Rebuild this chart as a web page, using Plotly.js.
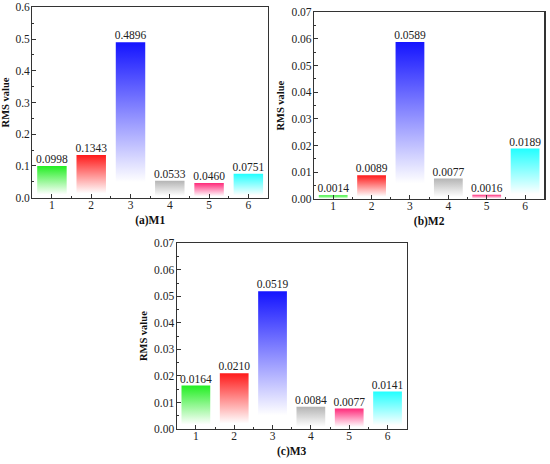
<!DOCTYPE html>
<html><head><meta charset="utf-8">
<script src="https://cdn.plot.ly/plotly-3.0.1.min.js"></script>
<style>html,body{margin:0;padding:0;background:#fff}#chart{width:550px;height:464px}</style>
</head><body><div id="chart"></div>
<script>
const categories = [1, 2, 3, 4, 5, 6];
const tickLabels = ['1', '2', '3', '4', '5', '6'];
const barColors = ['#22ee22', '#ff1a1a', '#1414ff', '#b4b4b4', '#ff2a7a', '#22ffff'];
const valuesM1 = [0.0998, 0.1343, 0.4896, 0.0533, 0.0460, 0.0751];
const valuesM2 = [0.0014, 0.0089, 0.0589, 0.0077, 0.0016, 0.0189];
const valuesM3 = [0.0164, 0.0210, 0.0519, 0.0084, 0.0077, 0.0141];
const panelTitles = ['(a)M1', '(b)M2', '(c)M3'];
const labelsM1 = ['0.0998', '0.1343', '0.4896', '0.0533', '0.0460', '0.0751'];
const labelsM2 = ['0.0014', '0.0089', '0.0589', '0.0077', '0.0016', '0.0189'];
const labelsM3 = ['0.0164', '0.0210', '0.0519', '0.0084', '0.0077', '0.0141'];

const W = 550, H = 464;
const FONT = 'Liberation Serif';
const halfW = 0.375;

const panels = [
  {vals: valuesM1, labels: labelsM1, xa: 'x', ya: 'y', box: [32.3, 268, 7.3, 197.7], range: [0, 0.60001], dtick: 0.1, fmt: '.1f'},
  {vals: valuesM2, labels: labelsM2, xa: 'x2', ya: 'y2', box: [314, 544.3, 12.3, 199], range: [0, 0.070001], dtick: 0.01, fmt: '.2f'},
  {vals: valuesM3, labels: labelsM3, xa: 'x3', ya: 'y3', box: [176.7, 406.7, 243.3, 429], range: [0, 0.070001], dtick: 0.01, fmt: '.2f'}
];

const traces = [];
const layout = {
  width: W, height: H, margin: {l: 0, r: 0, t: 0, b: 0},
  paper_bgcolor: '#fff', plot_bgcolor: '#fff', showlegend: false,
  font: {family: FONT, color: '#111', size: 11}
};

panels.forEach((p, k) => {
  categories.forEach((c, i) => {
    const v = p.vals[i];
    traces.push({
      type: 'scatter', x: [c - halfW, c + halfW], y: [v, v],
      xaxis: p.xa, yaxis: p.ya, mode: 'lines', line: {width: 0, color: barColors[i]},
      fill: 'tozeroy',
      fillgradient: {type: 'vertical', start: 0, stop: v,
        colorscale: [[0, '#ffffff'], [0.1, '#ffffff'], [1, barColors[i]]]},
      hoverinfo: 'skip'
    });
  });
  traces.push({
    type: 'scatter', x: categories, y: p.vals, xaxis: p.xa, yaxis: p.ya,
    mode: 'text', text: p.labels, textposition: 'top center',
    textfont: {family: FONT, size: 11.5, color: '#222'}, hoverinfo: 'skip'
  });
  const sfx = k === 0 ? '' : String(k + 1);
  const [l, r, t, b] = p.box;
  layout['xaxis' + sfx] = {
    domain: [l / W, r / W], range: [0.5, 6.5], anchor: p.ya,
    tickvals: categories, ticktext: tickLabels, ticks: 'inside', ticklen: 4, tickwidth: 1,
    tickcolor: '#333', showline: true, linecolor: '#333', linewidth: 1.2, mirror: true,
    showgrid: false, zeroline: false, fixedrange: true, ticklabeloverflow: 'allow',
    ticklabelstandoff: -4,
    minor: {tickvals: [1.5, 2.5, 3.5, 4.5, 5.5], ticks: 'inside', ticklen: 2, tickcolor: '#333'},
    tickfont: {family: FONT, size: 11.5, color: '#222'},
    title: {text: '<b>' + panelTitles[k] + '</b>', font: {family: FONT, size: 11.5, color: '#111'}, standoff: 6}
  };
  layout['yaxis' + sfx] = {
    domain: [1 - b / H, 1 - t / H], range: p.range, anchor: p.xa,
    dtick: p.dtick, tick0: 0, tickformat: p.fmt, ticks: 'inside', ticklen: 4, tickwidth: 1,
    tickcolor: '#333', showline: true, linecolor: '#333', linewidth: 1.2, mirror: true,
    showgrid: false, zeroline: false, fixedrange: true, ticklabeloverflow: 'allow',
    ticklabelstandoff: -1,
    minor: {dtick: p.dtick / 2, ticks: 'inside', ticklen: 2, tickcolor: '#333'},
    tickfont: {family: FONT, size: 11.5, color: '#222'},
    title: {text: '<b>RMS value</b>', font: {family: FONT, size: 10.5, color: '#111'}, standoff: 4}
  };
});

Plotly.newPlot('chart', traces, layout, {displayModeBar: false, staticPlot: true});
</script></body></html>
